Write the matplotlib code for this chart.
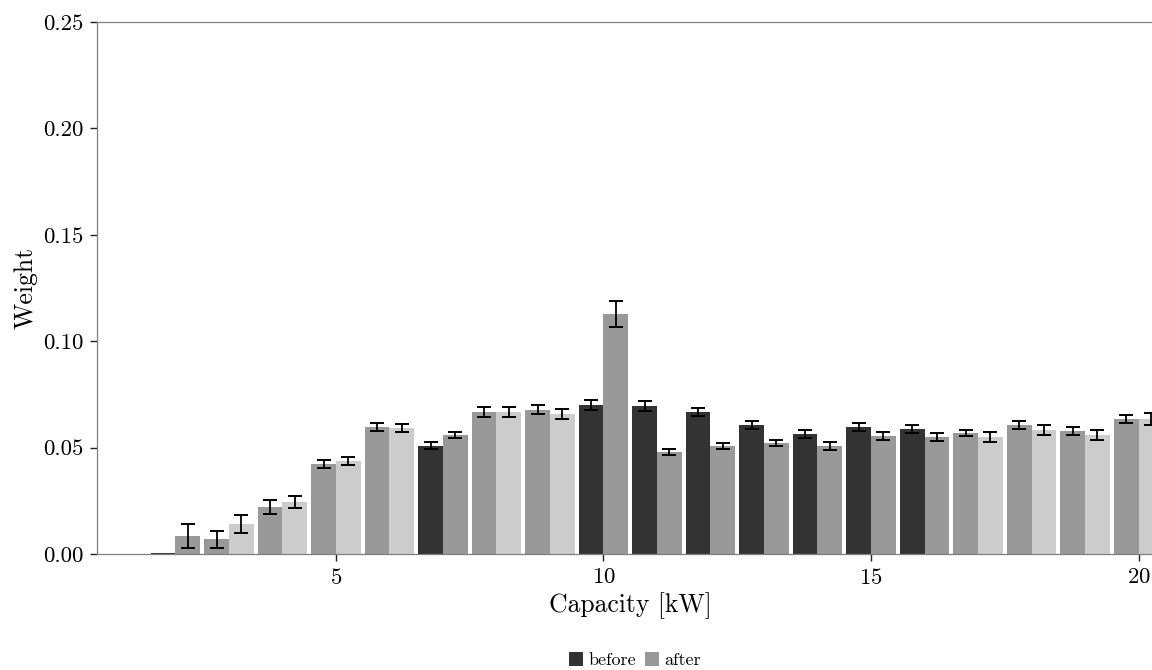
import matplotlib
matplotlib.use("Agg")
import matplotlib.pyplot as plt
from matplotlib.patches import Patch
import numpy as np

plt.rcParams['font.family'] = ['cmr10', 'DejaVu Serif']
plt.rcParams['mathtext.fontset'] = 'cm'
plt.rcParams['axes.formatter.use_mathtext'] = True

capacity = [2, 3, 4, 5, 6, 7, 8, 9, 10, 11, 12, 13, 14, 15, 16, 17, 18, 19, 20]
before = [0.0003, 0.0070, 0.0221, 0.0423, 0.0597, 0.0508, 0.0667, 0.0677, 0.0700, 0.0695,
          0.0667, 0.0606, 0.0564, 0.0597, 0.0587, 0.0569, 0.0606, 0.0578, 0.0634]
before_err = [0.0, 0.0040, 0.0033, 0.0019, 0.0018, 0.0016, 0.0022, 0.0021, 0.0023, 0.0022,
              0.0020, 0.0020, 0.0019, 0.0020, 0.0019, 0.0016, 0.0020, 0.0020, 0.0020]
after = [0.0085, 0.0141, 0.0244, 0.0437, 0.0592, 0.0559, 0.0667, 0.0658, 0.1128, 0.0479,
         0.0508, 0.0522, 0.0508, 0.0555, 0.0550, 0.0550, 0.0583, 0.0559, 0.0634]
after_err = [0.0055, 0.0040, 0.0030, 0.0020, 0.0018, 0.0016, 0.0023, 0.0022, 0.0060, 0.0016,
             0.0015, 0.0016, 0.0017, 0.0019, 0.0019, 0.0023, 0.0024, 0.0022, 0.0030]
# shade level per group: 'dark' -> before dark / after medium, 'light' -> before medium / after light
shade = ['dark', 'light', 'light', 'light', 'light', 'dark', 'light', 'light', 'dark', 'dark',
         'dark', 'dark', 'dark', 'dark', 'dark', 'light', 'light', 'light', 'light']

DARK, MID, LIGHT = '#333333', '#999999', '#cccccc'
before_colors = [DARK if s == 'dark' else MID for s in shade]
after_colors = [MID if s == 'dark' else LIGHT for s in shade]

fig = plt.figure(figsize=(11.52, 6.70), dpi=100)
ax = fig.add_axes([97/1152, 1 - 554/670, 1.0 - 97/1152 + 0.01, (554 - 22)/670])

x = np.array(capacity, dtype=float)
w = 0.46
ekw = dict(ecolor='black', elinewidth=1.3, capthick=1.4)
ax.bar(x - w/2, before, width=w, color=before_colors, linewidth=0)
ax.bar(x + w/2, after, width=w, color=after_colors, linewidth=0)
mask_b = np.array(before_err) > 0
ax.errorbar((x - w/2)[mask_b], np.array(before)[mask_b], yerr=np.array(before_err)[mask_b],
            fmt='none', capsize=4.7, **ekw)
ax.errorbar(x + w/2, after, yerr=after_err, fmt='none', capsize=4.7, **ekw)

ax.set_xlim(0.533, 0.533 + (1152 - 97 + 11.5) / 53.5)
ax.set_ylim(0, 0.25)
ax.set_xticks([5, 10, 15, 20])
ax.set_yticks([0, 0.05, 0.10, 0.15, 0.20, 0.25])
ax.set_yticklabels(['0.00', '0.05', '0.10', '0.15', '0.20', '0.25'])
for s in ['left', 'bottom', 'top']:
    ax.spines[s].set_color('#7f7f7f')
    ax.spines[s].set_linewidth(0.9)
ax.spines['right'].set_visible(False)
ax.tick_params(axis='both', direction='out', length=5, width=1.0, color='#222222',
               labelsize=16.5, pad=5)
ax.set_xlabel('Capacity [kW]', fontsize=18.5, labelpad=3)
ax.set_ylabel('Weight', fontsize=18.5, labelpad=4)

handles = [Patch(facecolor=DARK, label='before'), Patch(facecolor=MID, label='after')]
fig.legend(handles=handles, loc='center', bbox_to_anchor=(635/1152, 1 - 660/670), ncol=2,
           frameon=False, fontsize=13, handlelength=0.78, handleheight=0.78,
           handletextpad=0.28, columnspacing=0.5, borderaxespad=0)

fig.savefig('out.png', dpi=100)
